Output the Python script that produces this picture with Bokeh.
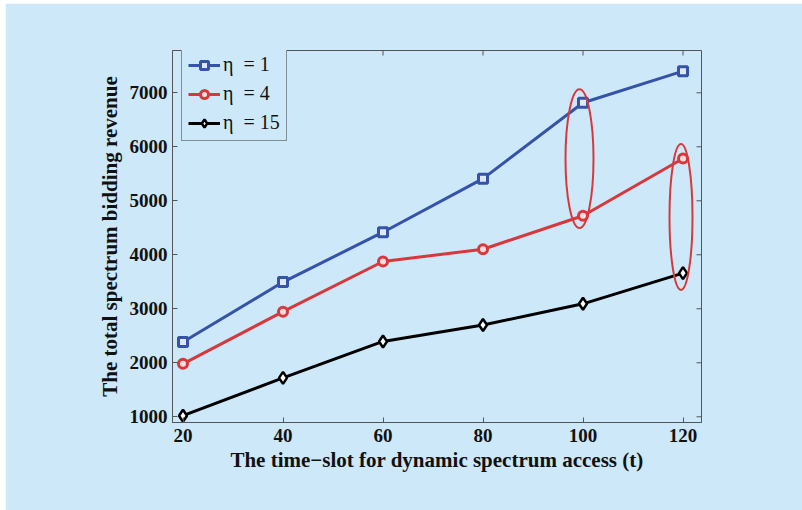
from bokeh.plotting import figure
from bokeh.embed import file_html
from bokeh.resources import INLINE
from bokeh.models import Range1d, FixedTicker, Spacer, Legend
from bokeh.layouts import column, row

time_slots = [20, 40, 60, 80, 100, 120]
rev_eta1 = [2385, 3495, 4418, 5410, 6815, 7400]
rev_eta4 = [1980, 2947, 3875, 4103, 4722, 5782]
rev_eta15 = [1020, 1720, 2395, 2700, 3092, 3660]
series_labels = ["η  = 1", "η  = 4", "η  = 15"]
x_ticks = [20, 40, 60, 80, 100, 120]
y_ticks = [1000, 2000, 3000, 4000, 5000, 6000, 7000]
ellipse_x = [99.3, 119.6]
ellipse_y = [5780, 4700]
ellipse_w = [5.6, 4.6]
ellipse_h = [2570, 2700]

BG = "#cde8f8"
BLUE = "#3553a8"
RED = "#d8383c"
BLACK = "#000000"
AXC = "#555555"
SERIF = "Liberation Serif"

X0, X1 = 17.9, 123.7
Y0, Y1 = 894, 7783
W, H = 797, 507
BL, BR, BT, BB = 167, 101, 47, 88
FW, FH = W - BL - BR, H - BT - BB
TICK = 5

p = figure(width=W, height=H, output_backend="svg", toolbar_location=None,
           x_range=Range1d(X0, X1), y_range=Range1d(Y0, Y1),
           background_fill_color=BG, border_fill_color=BG,
           min_border_left=BL, min_border_right=BR, min_border_top=BT, min_border_bottom=BB)
p.grid.visible = False
p.outline_line_color = AXC
p.outline_line_width = 1

for ax in (p.xaxis[0], p.yaxis[0]):
    ax.axis_line_color = AXC
    ax.major_tick_line_color = AXC
    ax.major_tick_in = TICK
    ax.major_tick_out = 0
    ax.minor_tick_line_color = None
    ax.major_label_text_font = SERIF
    ax.major_label_text_font_style = "bold"
    ax.major_label_text_font_size = "19px"
    ax.major_label_text_color = "#111111"
    ax.axis_label_text_font = SERIF
    ax.axis_label_text_font_style = "bold"
    ax.axis_label_text_font_size = "21px"
    ax.axis_label_text_color = "#111111"

p.xaxis[0].ticker = FixedTicker(ticks=x_ticks)
p.yaxis[0].ticker = FixedTicker(ticks=y_ticks)
p.xaxis[0].axis_label = "The time\u2212slot for dynamic spectrum access (t)"
p.yaxis[0].axis_label = "The total spectrum bidding revenue"
p.xaxis[0].major_label_standoff = 6
p.yaxis[0].major_label_standoff = 5
p.xaxis[0].axis_label_standoff = 3
p.yaxis[0].axis_label_standoff = 5

# inward ticks on the top and right edges of the box
dy = TICK * (Y1 - Y0) / FH
dx = TICK * (X1 - X0) / FW
p.segment(x0=x_ticks, y0=[Y1] * len(x_ticks), x1=x_ticks, y1=[Y1 - dy] * len(x_ticks),
          line_color=AXC, line_width=1)
p.segment(x0=[X1] * len(y_ticks), y0=y_ticks, x1=[X1 - dx] * len(y_ticks), y1=y_ticks,
          line_color=AXC, line_width=1)

l1 = p.line(time_slots, rev_eta1, line_color=BLUE, line_width=3)
m1 = p.scatter(time_slots, rev_eta1, marker="square", size=9, line_color=BLUE,
               line_width=3, fill_color="#dfe8f5")
l2 = p.line(time_slots, rev_eta4, line_color=RED, line_width=3)
m2 = p.scatter(time_slots, rev_eta4, marker="circle", size=9, line_color=RED,
               line_width=3, fill_color="#f6dede")
l3 = p.line(time_slots, rev_eta15, line_color=BLACK, line_width=3)
m3 = p.scatter(time_slots, rev_eta15, marker="diamond", size=12, line_color=BLACK,
               line_width=2.5, fill_color="#ffffff")

p.ellipse(x=ellipse_x, y=ellipse_y, width=ellipse_w, height=ellipse_h,
          fill_alpha=0, line_color=RED, line_width=2)

legend = Legend(items=[(series_labels[0], [l1, m1]), (series_labels[1], [l2, m2]),
                       (series_labels[2], [l3, m3])],
                location=(9, 281))
legend.label_text_font = SERIF
legend.label_text_font_size = "20px"
legend.label_text_color = "#111111"
legend.glyph_width = 32
legend.glyph_height = 20
legend.label_height = 22
legend.label_standoff = 3
legend.spacing = 6
legend.padding = 6
legend.margin = 0
legend.background_fill_color = BG
legend.background_fill_alpha = 1
legend.border_line_color = "#333333"
legend.border_line_width = 1
p.add_layout(legend, "center")

layout = column(Spacer(width=802, height=3),
                row(Spacer(width=5, height=507), p))

open("out.html", "w").write(file_html(layout, INLINE))
